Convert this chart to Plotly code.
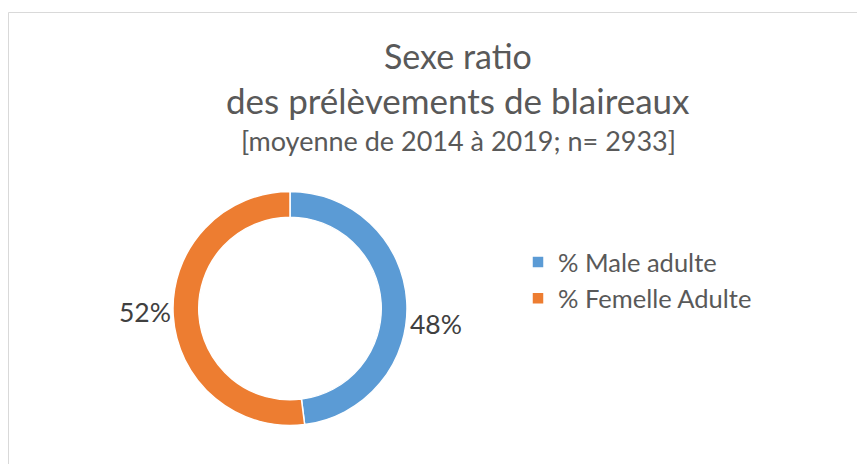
import plotly.graph_objects as go

categories = ["% Male adulte", "% Femelle Adulte"]
values = [48, 52]
colors = ["#5B9BD5", "#ED7D31"]
title_lines = ["Sexe ratio", "des prélèvements de blaireaux", "[moyenne de 2014 à 2019; n= 2933]"]

# page body has an 8px default margin, so the figure is sized to the remaining viewport
W, H = 857, 456
FONT = "Lato, Carlito, Calibri, sans-serif"

def px(x):
    return x / W

def py(y):
    return 1 - y / H

cx, cy, r = 282, 300.5, 117

fig = go.Figure(go.Pie(
    labels=categories,
    values=values,
    hole=0.78,
    sort=False,
    direction="clockwise",
    rotation=0,
    marker=dict(colors=colors, line=dict(color="white", width=1.5)),
    textinfo="none",
    domain=dict(x=[px(cx - r), px(cx + r)], y=[py(cy + r), py(cy - r)]),
    showlegend=True,
))

annos = []
title_specs = [(title_lines[0], 47, 34), (title_lines[1], 92, 35), (title_lines[2], 132, 27)]
for txt, y, size in title_specs:
    annos.append(dict(text=txt, x=px(450), y=py(y), xref="paper", yref="paper",
                      xanchor="center", yanchor="middle", showarrow=False,
                      font=dict(family=FONT, size=size, color="#595959")))

# data labels (percentages computed from the values)
total = sum(values)
label_pos = [(428, 316), (137, 304)]
for v, (lx, ly) in zip(values, label_pos):
    annos.append(dict(text=f"{round(100 * v / total)}%", x=px(lx), y=py(ly),
                      xref="paper", yref="paper", xanchor="center", yanchor="middle",
                      showarrow=False, font=dict(family=FONT, size=26.5, color="#404040")))

fig.update_layout(
    width=W, height=H,
    margin=dict(l=0, r=0, t=0, b=0),
    paper_bgcolor="white",
    plot_bgcolor="white",
    annotations=annos,
    legend=dict(x=px(510), y=py(231), xanchor="left", yanchor="top",
                font=dict(family=FONT, size=25.5, color="#595959"),
                bgcolor="rgba(0,0,0,0)"),
    shapes=[dict(type="rect", xref="paper", yref="paper",
                 x0=px(0.5), x1=1.05, y0=-0.05, y1=py(4.5),
                 line=dict(color="#D9D9D9", width=1), fillcolor="rgba(0,0,0,0)", layer="below")],
)

fig.write_html("out.html")
